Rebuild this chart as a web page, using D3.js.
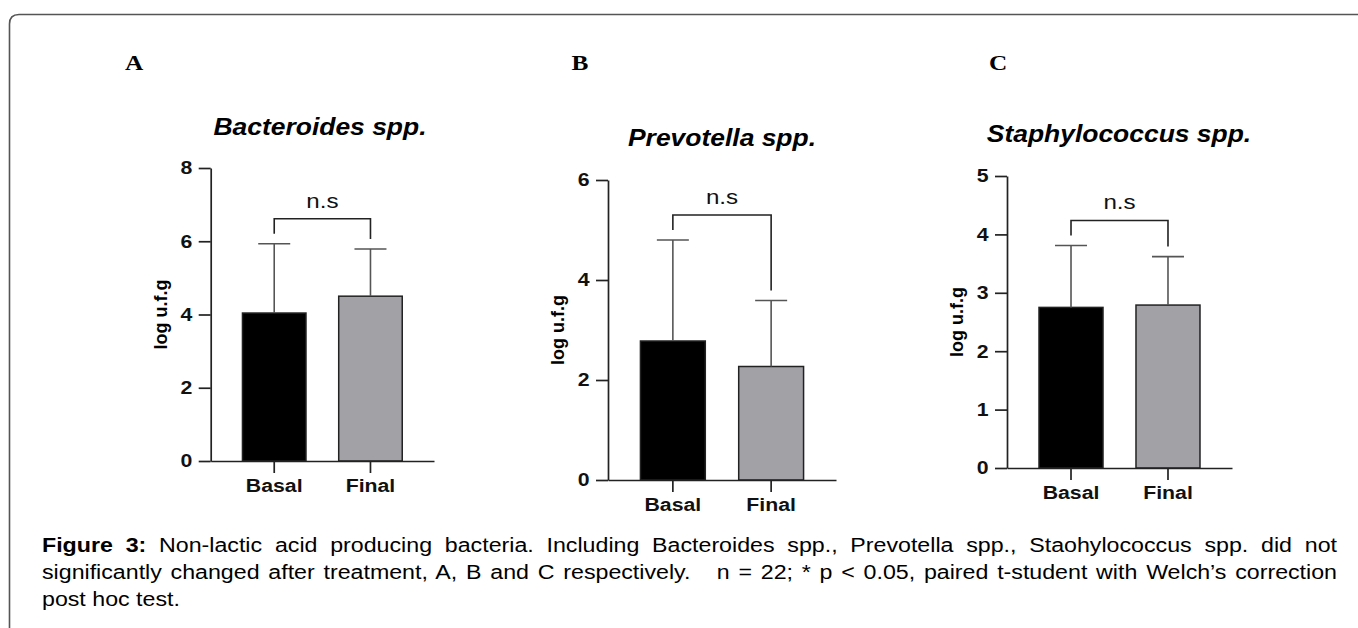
<!DOCTYPE html>
<html>
<head>
<meta charset="utf-8">
<script src="https://cdn.jsdelivr.net/npm/d3@7"></script>
<style>
  body { margin: 0; background: #fff; }
  text { font-family: "Liberation Sans", Arial, sans-serif; }
</style>
</head>
<body>
<script>
// chart values
var groups = ["Basal", "Final"];
var panelLetters = ["A", "B", "C"];
var titles = ["Bacteroides spp.", "Prevotella spp.", "Staphylococcus spp."];
var means = [[4.04, 4.50], [2.78, 2.27], [2.75, 2.79]];
var sds = [[1.89, 1.29], [2.02, 1.32], [1.06, 0.83]];
var yMax = [8, 6, 5];
var yStep = [2, 2, 1];
var sigLabels = ["n.s", "n.s", "n.s"];
var yLabel = "log u.f.g";
var captionBold = "Figure 3:";
var captionLines = [
  " Non-lactic acid producing bacteria. Including Bacteroides spp., Prevotella spp., Staohylococcus spp. did not",
  "significantly changed after treatment, A, B and C respectively.   n = 22; * p < 0.05, paired t-student with Welch\u2019s correction",
  "post hoc test."
];

var W = 1358, H = 628;
var sx = 1.15; // the original figure is a bit stretched sideways
var barColors = ["#000000", "#a2a2a6"];

// where each panel sits on the page
var frames = [
  {x0: 210.7, x1: 434, y0: 461, y1: 168, letter: [134, 70], title: [320, 135]},
  {x0: 608, x1: 836, y0: 480, y1: 180, letter: [580, 70], title: [722, 146]},
  {x0: 1007, x1: 1232, y0: 468, y1: 176, letter: [998, 70], title: [1119, 142]}
];

var svg = d3.select("body").append("svg")
  .attr("width", W)
  .attr("height", H);

// outer frame: rounded top-left corner, open on right/bottom
svg.append("path")
  .attr("d", "M9.5," + H + " V24 Q9.5,14.5 19,14.5 H" + (W + 2))
  .attr("fill", "none")
  .attr("stroke", "#555")
  .attr("stroke-width", 1.6);

function stretchedText(g, x, y, str) {
  return g.append("text")
    .attr("transform", "translate(" + x + "," + y + ") scale(" + sx + ",1)")
    .text(str);
}

function drawPanel(i) {
  var f = frames[i];
  var g = svg.append("g");

  var y = d3.scaleLinear().domain([0, yMax[i]]).range([f.y0, f.y1]);
  var x = d3.scaleBand().domain(groups).range([f.x0, f.x1])
    .paddingInner(0.34).paddingOuter(0.33);

  // panel letter
  g.append("text")
    .attr("transform", "translate(" + f.letter[0] + "," + f.letter[1] + ") scale(1.15,1)")
    .attr("text-anchor", "middle")
    .style("font-family", "'Liberation Serif', 'Times New Roman', serif")
    .style("font-weight", "bold")
    .style("font-size", "22px")
    .text(panelLetters[i]);

  // title
  stretchedText(g, f.title[0], f.title[1], titles[i])
    .attr("text-anchor", "middle")
    .style("font-weight", "bold")
    .style("font-style", "italic")
    .style("font-size", "23px");

  // bars
  var rows = groups.map(function(d, j) {
    return {name: d, mean: means[i][j], sd: sds[i][j], color: barColors[j]};
  });

  g.selectAll("rect.bar")
    .data(rows).enter()
    .append("rect")
      .attr("class", "bar")
      .attr("x", function(d) { return x(d.name); })
      .attr("width", x.bandwidth())
      .attr("y", function(d) { return y(d.mean); })
      .attr("height", function(d) { return y(0) - y(d.mean); })
      .attr("fill", function(d) { return d.color; })
      .attr("stroke", "#222")
      .attr("stroke-width", 1.5);

  // error bars (upper only)
  var eb = g.selectAll("g.err")
    .data(rows).enter()
    .append("g").attr("class", "err")
    .attr("stroke", "#555")
    .attr("stroke-width", 1.6);
  eb.append("line")
    .attr("x1", function(d) { return x(d.name) + x.bandwidth() / 2; })
    .attr("x2", function(d) { return x(d.name) + x.bandwidth() / 2; })
    .attr("y1", function(d) { return y(d.mean); })
    .attr("y2", function(d) { return y(d.mean + d.sd); });
  eb.append("line")
    .attr("x1", function(d) { return x(d.name) + x.bandwidth() / 2 - 16; })
    .attr("x2", function(d) { return x(d.name) + x.bandwidth() / 2 + 16; })
    .attr("y1", function(d) { return y(d.mean + d.sd); })
    .attr("y2", function(d) { return y(d.mean + d.sd); });

  // axes
  var yAxis = d3.axisLeft(y)
    .tickValues(d3.range(0, yMax[i] + yStep[i] / 2, yStep[i]))
    .tickFormat(d3.format("d"))
    .tickSize(12).tickSizeOuter(0).tickPadding(4);
  var ya = g.append("g")
    .attr("transform", "translate(" + f.x0 + ",0)")
    .call(yAxis);

  var xAxis = d3.axisBottom(x).tickSize(12).tickSizeOuter(0).tickPadding(6);
  var xa = g.append("g")
    .attr("transform", "translate(0," + f.y0 + ")")
    .call(xAxis);

  [ya, xa].forEach(function(a) {
    a.selectAll("path, line").attr("stroke", "#222").attr("stroke-width", 1.7);
    a.selectAll("text")
      .attr("fill", "#111")
      .style("font-family", "'Liberation Sans', Arial, sans-serif")
      .style("font-weight", "bold")
      .style("font-size", "18.5px");
  });
  ya.selectAll(".tick text").attr("transform", "scale(" + sx + ",1)");
  xa.selectAll(".tick text").attr("transform", "scale(" + sx + ",1)");

  // y label
  g.append("text")
    .attr("transform", "translate(" + (f.x0 - 44) + "," + ((f.y0 + f.y1) / 2) + ") rotate(-90)")
    .attr("text-anchor", "middle")
    .style("font-weight", "bold")
    .style("font-size", "18px")
    .text(yLabel);

  // significance bracket
  var cx = rows.map(function(d) { return x(d.name) + x.bandwidth() / 2; });
  var capY = rows.map(function(d) { return y(d.mean + d.sd); });
  var by = d3.min(capY) - 25;
  g.append("path")
    .attr("d", "M" + cx[0] + "," + (capY[0] - 10) + " V" + by +
               " H" + cx[1] + " V" + (capY[1] - 10))
    .attr("fill", "none")
    .attr("stroke", "#222")
    .attr("stroke-width", 1.6);
  stretchedText(g, (cx[0] + cx[1]) / 2, by - 11, sigLabels[i])
    .attr("text-anchor", "middle")
    .style("font-size", "21px")
    .attr("fill", "#111");
}

d3.range(3).forEach(drawPanel);

// caption, lines 1-2 justified; caption is also slightly wide in the original
var capLeft = 42, capRight = 1337, capSx = 1.16;
var capY0 = 552, capGap = 27;

captionLines.forEach(function(line, k) {
  var t = svg.append("text")
    .attr("transform", "translate(" + capLeft + "," + (capY0 + k * capGap) + ") scale(" + capSx + ",1)")
    .style("font-size", "20px")
    .style("white-space", "pre")
    .attr("fill", "#000");
  if (k == 0) {
    t.append("tspan").style("font-weight", "bold").text(captionBold);
  }
  t.append("tspan").text(line);

  if (k < captionLines.length - 1) {
    var full = (k == 0 ? captionBold : "") + line;
    var spaces = (full.match(/ /g) || []).length;
    var natural = t.node().getComputedTextLength();
    var extra = ((capRight - capLeft) / capSx - natural) / spaces;
    t.style("word-spacing", extra + "px");
  }
});
</script>
</body>
</html>
